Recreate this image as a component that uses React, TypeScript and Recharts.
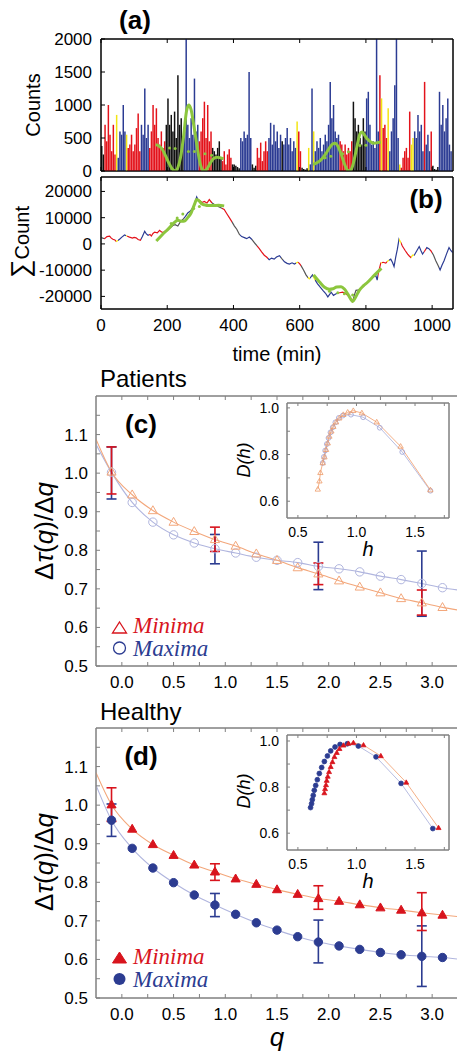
import React from 'react';
import { ComposedChart, Bar, Cell, Line, Scatter, XAxis, YAxis, ErrorBar, ReferenceArea } from 'recharts';

// ---------------- data: panel (a) ----------------
const T_END = 1063;
const BIN = 5;
const counts = [
  380, 250, 700, 450, 1000, 550, 300, 700, 250, 850,
  200, 600, 550, 1000, 600, 550, 350, 400, 550, 300,
  400, 650, 870, 300, 700, 550, 1250, 500, 700, 350,
  600, 1000, 700, 950, 500, 400, 600, 350, 450, 700,
  1100, 700, 850, 600, 900, 500, 1450, 700, 800, 400,
  600, 2000, 700, 500, 800, 550, 1400, 600, 700, 450,
  600, 800, 1050, 500, 1000, 450, 600, 350, 300, 250,
  350, 450, 200, 150, 300, 100, 250, 330, 200, 100,
  100, 80, 60, 40, 500, 450, 600, 500, 550, 1500,
  500, 100, 50, 80, 350, 200, 430, 150, 300, 450,
  300, 500, 730, 400, 700, 450, 600, 350, 550, 450,
  400, 500, 650, 400, 500, 300, 450, 350, 750, 600,
  300, 50, 30, 20, 40, 350, 100, 1250, 600, 300,
  450, 350, 500, 300, 400, 550, 450, 700, 1350, 800,
  1000, 600, 500, 550, 450, 400, 300, 400, 250, 350,
  300, 450, 1050, 800, 600, 700, 500, 400, 800, 600,
  1100, 1200, 700, 400, 450, 350, 2000, 600, 1450, 1100,
  650, 700, 500, 950, 300, 600, 800, 1300, 2000, 500,
  100, 50, 200, 300, 350, 200, 900, 400, 500, 600,
  500, 850, 600, 700, 300, 1350, 400, 550, 300, 600,
  80, 30, 20, 60, 1200, 700, 1000, 600, 800, 1100, 400, 300,
];

// colour class of each time segment: [start, end, class]
const segments: [number, number, string][] = [
  [0, 8, 'K'], [8, 45, 'R'], [45, 52, 'Y'], [52, 75, 'B'], [75, 80, 'Y'], [80, 120, 'R'],
  [120, 145, 'B'], [145, 195, 'R'], [195, 250, 'K'], [250, 297, 'B'], [297, 335, 'R'],
  [335, 365, 'K'], [365, 395, 'R'], [395, 420, 'K'], [420, 455, 'B'], [455, 470, 'K'],
  [470, 505, 'R'], [505, 545, 'B'], [545, 550, 'K'], [550, 590, 'B'], [590, 595, 'Y'],
  [595, 605, 'R'], [605, 625, 'K'], [625, 630, 'Y'], [630, 640, 'B'], [640, 645, 'Y'],
  [645, 720, 'B'], [720, 760, 'R'], [760, 800, 'K'], [800, 838, 'B'], [838, 845, 'R'],
  [845, 850, 'Y'], [850, 865, 'R'], [865, 870, 'Y'], [870, 900, 'B'], [900, 905, 'Y'],
  [905, 935, 'R'], [935, 945, 'Y'], [945, 975, 'B'], [975, 980, 'R'], [980, 995, 'B'],
  [995, 1000, 'R'], [1000, 1020, 'K'], [1020, 1065, 'B'],
];

const greenA1T = [165, 175, 185, 195, 205, 215, 225, 232, 240, 250, 258, 265, 272, 280, 290, 300, 310, 320, 330, 340, 350, 360, 370];
const greenA1V = [400, 380, 330, 230, 120, 30, 0, 50, 200, 550, 900, 1000, 930, 700, 380, 100, 0, 30, 120, 190, 210, 200, 185];
const greenA2T = [640, 650, 660, 670, 680, 690, 700, 708, 715, 725, 735, 745, 752, 760, 768, 775, 782, 788, 795, 805, 815, 825, 835, 845];
const greenA2V = [100, 120, 150, 200, 270, 350, 410, 420, 380, 260, 110, 10, 0, 80, 250, 420, 560, 590, 550, 480, 440, 420, 430, 440];
const greenDotsAT = [207, 224, 264, 282, 314, 334, 677, 694, 730, 747, 782, 800];
const greenDotsAV = [350, 340, 295, 295, 260, 240, 200, 225, 260, 290, 385, 390];

// ---------------- data: panel (b) ----------------
const cumT = [0, 5, 11, 18, 26, 31, 36, 42, 46, 52, 56, 63, 71, 78, 86, 95, 100, 106, 112, 119, 125, 132, 137, 142, 148, 152, 157, 162, 170, 177, 182, 187, 195, 202, 210, 217, 224, 232, 240, 247, 255, 262, 270, 277, 283, 289, 293, 297, 305, 312, 320, 327, 334, 342, 350, 357, 365, 372, 380, 388, 396, 403, 410, 418, 425, 433, 440, 448, 455, 463, 470, 478, 485, 493, 500, 508, 515, 523, 530, 539, 546, 554, 562, 569, 577, 584, 594, 599, 604, 612, 619, 625, 629, 634, 639, 646, 654, 662, 670, 678, 685, 690, 695, 702, 710, 720, 730, 740, 750, 756, 760, 765, 770, 778, 785, 792, 800, 808, 815, 822, 830, 834, 838, 845, 852, 860, 867, 875, 880, 885, 890, 895, 900, 905, 910, 918, 926, 931, 936, 941, 946, 952, 961, 966, 971, 977, 984, 990, 996, 1004, 1011, 1018, 1024, 1030, 1036, 1043, 1051, 1057, 1062];
const cumV = [2500, 2200, 2000, 2800, 3000, 2200, 1800, 1500, 900, 1400, 1800, 2600, 3400, 3000, 2600, 2200, 2500, 2300, 1700, 1400, 2800, 4800, 3800, 3300, 3600, 3000, 4000, 4500, 4200, 5200, 4600, 4300, 5000, 5500, 6200, 7000, 7300, 6800, 8500, 9300, 10500, 11800, 12500, 13700, 15500, 17900, 16800, 16600, 15800, 16200, 15600, 16900, 15800, 15000, 14600, 14100, 13600, 13100, 11500, 9900, 8300, 6800, 5600, 3600, 2800, 2400, 2000, 2600, 1800, 500, -600, -1800, -3000, -4300, -5000, -6000, -5400, -5800, -5000, -4500, -5600, -6800, -7400, -7700, -7200, -7700, -7000, -7400, -8300, -10000, -11800, -12800, -13300, -12600, -11800, -13600, -15200, -16500, -17700, -18800, -20200, -19300, -18400, -19600, -19000, -18600, -18400, -19000, -20200, -21000, -21900, -19500, -17700, -17500, -16900, -16200, -15200, -14200, -13300, -12600, -12100, -13800, -10800, -7300, -7000, -7300, -6400, -5800, -7000, -8600, -5000, -2000, 1800, 600, -800, -2400, -3900, -4600, -5200, -4300, -4300, -3000, -1000, -2500, -3900, -2800, -1400, -1800, -2600, -4200, -6400, -8200, -9900, -8000, -6400, -4000, -1400, -2600, -3300];

const greenB1T = [167, 185, 207, 220, 232, 245, 252, 262, 272, 282, 289, 297, 305, 312, 325, 337, 355, 372];
const greenB1V = [1100, 3500, 6200, 8000, 9000, 8600, 8700, 10000, 11800, 15000, 16900, 16300, 15200, 14900, 14600, 14600, 14700, 14500];
const greenB2T = [642, 660, 675, 690, 700, 712, 725, 735, 745, 755, 760, 768, 780, 792, 805, 825, 847];
const greenB2V = [-11800, -14500, -16500, -17300, -17100, -16400, -16300, -17200, -19000, -21200, -21900, -20500, -17700, -16000, -14600, -12000, -9300];
const greenDotsBT = [212, 230, 247, 280, 297, 690, 715, 735, 760];
const greenDotsBV = [7800, 9900, 11400, 13500, 14300, -18000, -18600, -19000, -19500];

// ---------------- data: panels (c) and (d) ----------------
const qPts = [-0.1, 0.1, 0.3, 0.5, 0.7, 0.9, 1.1, 1.3, 1.5, 1.7, 1.9, 2.1, 2.3, 2.5, 2.7, 2.9, 3.1];
const cMin = [1.003, 0.944, 0.903, 0.873, 0.849, 0.828, 0.811, 0.791, 0.774, 0.755, 0.739, 0.721, 0.705, 0.690, 0.675, 0.664, 0.652];
const cMax = [1.002, 0.924, 0.873, 0.840, 0.819, 0.804, 0.793, 0.782, 0.774, 0.768, 0.758, 0.752, 0.744, 0.733, 0.724, 0.714, 0.703];
const dMin = [1.001, 0.938, 0.898, 0.870, 0.845, 0.827, 0.809, 0.795, 0.781, 0.769, 0.758, 0.751, 0.742, 0.734, 0.728, 0.721, 0.715];
const dMax = [0.961, 0.888, 0.837, 0.799, 0.767, 0.741, 0.717, 0.695, 0.676, 0.659, 0.645, 0.635, 0.626, 0.618, 0.612, 0.608, 0.605];
// fit-curve end values at q = -0.25 and q = 3.25
const cMinEnds = [1.088, 0.645];
const cMaxEnds = [1.075, 0.697];
const dMinEnds = [1.084, 0.711];
const dMaxEnds = [1.052, 0.601];

const errQ = [-0.1, 0.9, 1.9, 2.9];
const cErrMinLo = [0.946, 0.797, 0.711, 0.632];
const cErrMinHi = [1.068, 0.860, 0.767, 0.697];
const cErrMaxLo = [0.933, 0.765, 0.698, 0.629];
const cErrMaxHi = [1.068, 0.841, 0.821, 0.798];
const dErrMinLo = [0.958, 0.805, 0.730, 0.675];
const dErrMinHi = [1.045, 0.848, 0.791, 0.773];
const dErrMaxLo = [0.919, 0.711, 0.591, 0.530];
const dErrMaxHi = [1.003, 0.771, 0.702, 0.687];

// insets D(h)
const icMinH = [0.670, 0.684, 0.692, 0.712, 0.727, 0.741, 0.755, 0.769, 0.786, 0.803, 0.826, 0.854, 0.888, 0.925, 0.973, 1.046, 1.173, 1.377, 1.631];
const icMinD = [0.651, 0.686, 0.722, 0.764, 0.789, 0.821, 0.849, 0.878, 0.900, 0.920, 0.939, 0.956, 0.971, 0.981, 0.988, 0.978, 0.939, 0.835, 0.648];
const icMaxH = [0.712, 0.722, 0.733, 0.747, 0.761, 0.778, 0.798, 0.820, 0.849, 0.883, 0.953, 1.057, 1.199, 1.391, 1.631];
const icMaxD = [0.764, 0.790, 0.817, 0.845, 0.871, 0.895, 0.917, 0.938, 0.957, 0.967, 0.971, 0.960, 0.915, 0.811, 0.645];
const idMaxH = [0.608, 0.617, 0.623, 0.631, 0.640, 0.652, 0.666, 0.683, 0.703, 0.726, 0.752, 0.780, 0.817, 0.860, 0.922, 1.016, 1.167, 1.381, 1.652];
const idMaxD = [0.711, 0.728, 0.745, 0.764, 0.786, 0.807, 0.832, 0.859, 0.885, 0.911, 0.935, 0.957, 0.974, 0.985, 0.988, 0.978, 0.931, 0.816, 0.620];
const idMinH = [0.726, 0.732, 0.740, 0.746, 0.755, 0.766, 0.780, 0.795, 0.812, 0.832, 0.855, 0.889, 0.932, 0.974, 1.060, 1.208, 1.425, 1.701];
const idMinD = [0.774, 0.792, 0.809, 0.828, 0.846, 0.866, 0.888, 0.909, 0.931, 0.949, 0.966, 0.981, 0.989, 0.992, 0.982, 0.935, 0.820, 0.623];

// ticks
const timeTicks = [0, 200, 400, 600, 800, 1000];
const countTicks = [0, 500, 1000, 1500, 2000];
const cumTicks = [-20000, -10000, 0, 10000, 20000];
const qTicks = [0, 0.25, 0.5, 0.75, 1, 1.25, 1.5, 1.75, 2, 2.25, 2.5, 2.75, 3];
const tauTicks = [0.5, 0.55, 0.6, 0.65, 0.7, 0.75, 0.8, 0.85, 0.9, 0.95, 1.0, 1.05, 1.1, 1.15];
const hTicks = [0.5, 0.75, 1.0, 1.25, 1.5, 1.75];
const dTicks = [0.6, 0.7, 0.8, 0.9, 1.0];

// ---------------- styles ----------------
const SANS = "'Liberation Sans', Arial, Helvetica, sans-serif";
const SERIF = "'Liberation Serif', 'Times New Roman', serif";
const BAR_COLOR: Record<string, string> = { R: '#e3131b', B: '#2b3b93', Y: '#f3e513', K: '#111111' };
const LINE_COLOR: Record<string, string> = { R: '#e3131b', B: '#2b3b93', Y: '#f3e513', K: '#555555' };
const GREEN = '#8cc63e';
const RED = '#d8141d';
const BLUE = '#2c3c91';
const ORANGE_L = '#f3a77b';
const BLUE_L = '#b0b5de';
const FRAME = '#808080';
const tickFont = { fontSize: 17, fill: '#000', fontFamily: SANS };
const insetFont = { fontSize: 14, fill: '#000', fontFamily: SANS };

const classAt = (t: number) => {
  const s = segments.find(([a, b]) => t >= a && t < b);
  return s ? s[2] : 'B';
};

const barData = counts.map((c, i) => ({ t: i * BIN + BIN / 2, c }));
const zip = (xs: number[], ys: number[], kx: string, ky: string) => xs.map((x, i) => ({ [kx]: x, [ky]: ys[i] }));

const none = () => '';
const fmtTenth = (v: number) => (Math.round(v * 100) % 10 === 0 ? v.toFixed(1) : '');
const fmtHalf = (v: number) => (Math.round(v * 100) % 50 === 0 ? v.toFixed(1) : '');
const fmtFifth = (v: number) => (Math.round(v * 10) % 2 === 0 ? v.toFixed(1) : '');

const triangle = (cx: number, cy: number, r: number, fill: string, stroke: string, sw = 1) => (
  <polygon
    points={`${cx},${cy - r} ${cx + r * 0.95},${cy + r * 0.65} ${cx - r * 0.95},${cy + r * 0.65}`}
    fill={fill}
    stroke={stroke}
    strokeWidth={sw}
  />
);

const triShape = (r: number, fill: string, stroke: string) => (p: any) =>
  p.cx == null ? <g /> : triangle(p.cx, p.cy, r, fill, stroke);
const circShape = (r: number, fill: string, stroke: string) => (p: any) =>
  p.cx == null ? <g /> : <circle cx={p.cx} cy={p.cy} r={r} fill={fill} stroke={stroke} strokeWidth={1} />;
const triDot = (r: number, fill: string, stroke: string) => (p: any) =>
  <g key={`t${p.index}`}>{p.cx == null ? null : triangle(p.cx, p.cy, r, fill, stroke, 0.8)}</g>;
const circDot = (r: number, fill: string, stroke: string) => (p: any) =>
  <g key={`c${p.index}`}>{p.cx == null ? null : <circle cx={p.cx} cy={p.cy} r={r} fill={fill} stroke={stroke} strokeWidth={0.8} />}</g>;
const emptyShape = () => <g />;

const axLine = (c: string) => ({ stroke: c, strokeWidth: 1 });

// ---------------- panels ----------------
function CountsChart() {
  return (
    <ComposedChart width={457} height={186} data={barData} margin={{ top: 38, right: 3, bottom: 14, left: 0 }}>
      <XAxis type="number" dataKey="t" domain={[0, T_END]} ticks={timeTicks} interval={0} tickFormatter={none} tickSize={-4} height={1} axisLine={axLine('#000')} tickLine={axLine('#000')} allowDataOverflow />
      <XAxis xAxisId="top" orientation="top" type="number" dataKey="t" domain={[0, T_END]} ticks={timeTicks} interval={0} tickFormatter={none} tickSize={-4} height={1} axisLine={axLine('#000')} tickLine={axLine('#000')} allowDataOverflow />
      <YAxis domain={[0, 2000]} ticks={countTicks} interval={0} width={101} tickSize={-4} tickMargin={13} tick={tickFont} axisLine={axLine('#000')} tickLine={axLine('#000')} allowDataOverflow />
      <YAxis yAxisId="right" orientation="right" domain={[0, 2000]} ticks={countTicks} interval={0} width={1} tickSize={-4} tickFormatter={none} axisLine={axLine('#000')} tickLine={axLine('#000')} />
      <Bar dataKey="c" barSize={1.7} isAnimationActive={false}>
        {barData.map((d, i) => (
          <Cell key={i} fill={BAR_COLOR[classAt(d.t)]} />
        ))}
      </Bar>
      <Line xAxisId="top" data={zip(greenA1T, greenA1V, 't', 'g')} dataKey="g" type="monotone" stroke={GREEN} strokeWidth={3} dot={false} isAnimationActive={false} />
      <Line xAxisId="top" data={zip(greenA2T, greenA2V, 't', 'g')} dataKey="g" type="monotone" stroke={GREEN} strokeWidth={3} dot={false} isAnimationActive={false} />
      <Scatter xAxisId="top" data={zip(greenDotsAT, greenDotsAV, 't', 'g')} dataKey="g" shape={circShape(1.5, GREEN, 'none')} isAnimationActive={false} />
      <ReferenceArea x1={0} x2={T_END} y1={0} y2={2000} fill="none" stroke="#000" strokeWidth={1} ifOverflow="visible" />
    </ComposedChart>
  );
}

function CumChart() {
  const t0 = cumT[0];
  const t1 = cumT[cumT.length - 1];
  const frac = (t: number) => Math.max(0, Math.min(1, (t - t0) / (t1 - t0)));
  return (
    <ComposedChart width={457} height={163} margin={{ top: 0, right: 3, bottom: 0, left: 0 }}>
      <defs>
        <linearGradient id="cumGrad" x1="0" y1="0" x2="1" y2="0">
          {segments.flatMap(([a, b, k], i) => [
            <stop key={`${i}a`} offset={frac(a)} stopColor={LINE_COLOR[k]} />,
            <stop key={`${i}b`} offset={frac(b)} stopColor={LINE_COLOR[k]} />,
          ])}
        </linearGradient>
      </defs>
      <XAxis type="number" dataKey="t" domain={[0, T_END]} ticks={timeTicks} interval={0} tickSize={-4} tickMargin={14} height={30} tick={tickFont} axisLine={axLine('#000')} tickLine={axLine('#000')} allowDataOverflow />
      <XAxis xAxisId="top" orientation="top" type="number" dataKey="t" domain={[0, T_END]} ticks={timeTicks} interval={0} tickFormatter={none} tickSize={-4} height={1} axisLine={axLine('#000')} tickLine={axLine('#000')} allowDataOverflow />
      <YAxis domain={[-24800, 25500]} ticks={cumTicks} interval={0} width={101} tickSize={-4} tickMargin={13} tick={tickFont} axisLine={axLine('#000')} tickLine={axLine('#000')} allowDataOverflow />
      <YAxis yAxisId="right" orientation="right" domain={[-24800, 25500]} ticks={cumTicks} interval={0} width={1} tickSize={-4} tickFormatter={none} axisLine={axLine('#000')} tickLine={axLine('#000')} />
      <Line data={zip(cumT, cumV, 't', 'v')} dataKey="v" type="linear" stroke="url(#cumGrad)" strokeWidth={1.2} dot={false} isAnimationActive={false} />
      <Line data={zip(greenB1T, greenB1V, 't', 'v')} dataKey="v" type="monotone" stroke={GREEN} strokeWidth={3} dot={false} isAnimationActive={false} />
      <Line data={zip(greenB2T, greenB2V, 't', 'v')} dataKey="v" type="monotone" stroke={GREEN} strokeWidth={3} dot={false} isAnimationActive={false} />
      <Scatter data={zip(greenDotsBT, greenDotsBV, 't', 'v')} dataKey="v" shape={circShape(1.5, GREEN, 'none')} isAnimationActive={false} />
      <ReferenceArea x1={0} x2={T_END} y1={-24800} y2={25500} fill="none" stroke="#000" strokeWidth={1} ifOverflow="visible" />
    </ComposedChart>
  );
}

type QProps = {
  minV: number[]; maxV: number[]; minEnds: number[]; maxEnds: number[];
  eMinLo: number[]; eMinHi: number[]; eMaxLo: number[]; eMaxHi: number[]; filled: boolean;
};

function QChart({ minV, maxV, minEnds, maxEnds, eMinLo, eMinHi, eMaxLo, eMaxHi, filled }: QProps) {
  const pMin = qPts.map((q, i) => ({ q, v: minV[i] }));
  const pMax = qPts.map((q, i) => ({ q, v: maxV[i] }));
  const fitMin = [{ q: -0.25, v: minEnds[0] }, ...pMin, { q: 3.25, v: minEnds[1] }];
  const fitMax = [{ q: -0.25, v: maxEnds[0] }, ...pMax, { q: 3.25, v: maxEnds[1] }];
  const errMin = errQ.map((q, i) => ({ q, m: (eMinLo[i] + eMinHi[i]) / 2, e: (eMinHi[i] - eMinLo[i]) / 2 }));
  const errMax = errQ.map((q, i) => ({ q, m: (eMaxLo[i] + eMaxHi[i]) / 2, e: (eMaxHi[i] - eMaxLo[i]) / 2 }));
  return (
    <ComposedChart width={465} height={316} margin={{ top: 15, right: 6, bottom: 0, left: 0 }}>
      <XAxis type="number" dataKey="q" domain={[-0.25, 3.25]} ticks={qTicks} interval={0} tickFormatter={fmtHalf} tickSize={-4} tickMargin={14} height={30} tick={tickFont} axisLine={axLine(FRAME)} tickLine={axLine(FRAME)} allowDataOverflow />
      <XAxis xAxisId="top" orientation="top" type="number" dataKey="q" domain={[-0.25, 3.25]} ticks={qTicks} interval={0} tickFormatter={none} tickSize={-4} height={1} axisLine={axLine(FRAME)} tickLine={axLine(FRAME)} allowDataOverflow />
      <YAxis domain={[0.5, 1.2]} ticks={tauTicks} interval={0} tickFormatter={fmtTenth} width={96} tickSize={-4} tickMargin={12} tick={tickFont} axisLine={axLine(FRAME)} tickLine={axLine(FRAME)} allowDataOverflow />
      <YAxis yAxisId="right" orientation="right" domain={[0.5, 1.2]} ticks={tauTicks} interval={0} tickFormatter={none} width={1} tickSize={-4} axisLine={axLine(FRAME)} tickLine={axLine(FRAME)} />
      <ReferenceArea x1={-0.25} x2={3.25} y1={0.5} y2={1.2} fill="none" stroke={FRAME} strokeWidth={1} ifOverflow="visible" />
      <Line data={fitMax} dataKey="v" type="monotone" stroke={BLUE_L} strokeWidth={1.1} dot={false} isAnimationActive={false} />
      <Line data={fitMin} dataKey="v" type="monotone" stroke={ORANGE_L} strokeWidth={1.1} dot={false} isAnimationActive={false} />
      <Scatter data={errMax} dataKey="m" shape={emptyShape} isAnimationActive={false}>
        <ErrorBar dataKey="e" direction="y" width={5} stroke={BLUE} strokeWidth={1.6} isAnimationActive={false} />
      </Scatter>
      <Scatter data={errMin} dataKey="m" shape={emptyShape} isAnimationActive={false}>
        <ErrorBar dataKey="e" direction="y" width={5} stroke={RED} strokeWidth={1.6} isAnimationActive={false} />
      </Scatter>
      <Scatter data={pMax} dataKey="v" shape={filled ? circShape(4.2, BLUE, BLUE) : circShape(4.2, 'none', BLUE_L)} isAnimationActive={false} />
      <Scatter data={pMin} dataKey="v" shape={filled ? triShape(4.8, RED, RED) : triShape(4.8, 'none', ORANGE_L)} isAnimationActive={false} />
    </ComposedChart>
  );
}

type InsetProps = { minH: number[]; minD: number[]; maxH: number[]; maxD: number[]; yDomain: number[]; filled: boolean };

function InsetChart({ minH, minD, maxH, maxD, yDomain, filled }: InsetProps) {
  return (
    <ComposedChart width={220} height={160} margin={{ top: 7, right: 10, bottom: 0, left: 0 }}>
      <XAxis type="number" dataKey="h" domain={[0.407, 1.79]} ticks={hTicks} interval={0} tickFormatter={fmtHalf} tickSize={-3} tickMargin={12} height={37} tick={insetFont} axisLine={axLine(FRAME)} tickLine={axLine(FRAME)} allowDataOverflow />
      <XAxis xAxisId="top" orientation="top" type="number" dataKey="h" domain={[0.407, 1.79]} ticks={hTicks} interval={0} tickFormatter={none} tickSize={-3} height={1} axisLine={axLine(FRAME)} tickLine={axLine(FRAME)} allowDataOverflow />
      <YAxis domain={yDomain} ticks={dTicks} interval={0} tickFormatter={fmtFifth} width={47} tickSize={-3} tickMargin={11} tick={insetFont} axisLine={axLine(FRAME)} tickLine={axLine(FRAME)} allowDataOverflow />
      <YAxis yAxisId="right" orientation="right" domain={yDomain} ticks={dTicks} interval={0} tickFormatter={none} width={1} tickSize={-3} axisLine={axLine(FRAME)} tickLine={axLine(FRAME)} />
      <ReferenceArea x1={0.407} x2={1.79} y1={yDomain[0]} y2={yDomain[1]} fill="#fff" stroke={FRAME} strokeWidth={1} ifOverflow="visible" />
      <Line data={zip(maxH, maxD, 'h', 'd')} dataKey="d" type="linear" stroke={BLUE_L} strokeWidth={0.9}
        dot={filled ? circDot(2.4, BLUE, BLUE) : circDot(2.4, 'none', '#9aa0d4')} isAnimationActive={false} />
      <Line data={zip(minH, minD, 'h', 'd')} dataKey="d" type="linear" stroke={ORANGE_L} strokeWidth={0.9}
        dot={filled ? triDot(2.6, RED, RED) : triDot(2.8, 'none', '#ee9a68')} isAnimationActive={false} />
    </ComposedChart>
  );
}

function TauLabel({ cy }: { cy: number }) {
  return (
    <text transform={`translate(53,${cy}) rotate(-90)`} textAnchor="middle" fontSize={26} fontFamily={SANS}>
      Δ<tspan fontStyle="italic">τ</tspan>(<tspan fontStyle="italic">q</tspan>)/Δ<tspan fontStyle="italic">q</tspan>
    </text>
  );
}

function Overlay() {
  return (
    <svg width={457} height={1059} style={{ position: 'absolute', left: 0, top: 0, pointerEvents: 'none' }} fontFamily={SANS}>
      <text x={135} y={29} fontSize={26} fontWeight="bold" textAnchor="middle">(a)</text>
      <text x={426} y={208} fontSize={26} fontWeight="bold" textAnchor="middle">(b)</text>
      <text x={141} y={433} fontSize={26} fontWeight="bold" textAnchor="middle">(c)</text>
      <text x={141} y={765} fontSize={26} fontWeight="bold" textAnchor="middle">(d)</text>
      <text transform="translate(40,105) rotate(-90)" textAnchor="middle" fontSize={20}>Counts</text>
      <text transform="translate(29,242) rotate(-90)" textAnchor="middle" fontSize={20}>
        <tspan fontSize={26}>∑</tspan>Count
      </text>
      <text x={277} y={361} textAnchor="middle" fontSize={20}>time (min)</text>
      <text x={100} y={387} fontSize={24}>Patients</text>
      <text x={100} y={720} fontSize={24}>Healthy</text>
      <TauLabel cy={531} />
      <TauLabel cy={862} />
      <text x={277} y={1046} textAnchor="middle" fontSize={26} fontStyle="italic">q</text>
      <text transform="translate(250,460) rotate(-90)" textAnchor="middle" fontSize={18} fontStyle="italic">D(h)</text>
      <text transform="translate(250,791) rotate(-90)" textAnchor="middle" fontSize={18} fontStyle="italic">D(h)</text>
      <text x={368} y={556} textAnchor="middle" fontSize={20} fontStyle="italic">h</text>
      <text x={368} y={888} textAnchor="middle" fontSize={20} fontStyle="italic">h</text>
      {/* legend (c) */}
      <polygon points="119.5,622 126.5,633 112.5,633" fill="none" stroke={RED} strokeWidth={1.3} />
      <text x={133} y={633} fontSize={23} fontStyle="italic" fontFamily={SERIF} fill={RED}>Minima</text>
      <circle cx={119.5} cy={648} r={6} fill="none" stroke={BLUE} strokeWidth={1.3} />
      <text x={133} y={656} fontSize={23} fontStyle="italic" fontFamily={SERIF} fill={BLUE}>Maxima</text>
      {/* legend (d) */}
      <polygon points="119.5,952 126.5,963 112.5,963" fill={RED} stroke={RED} strokeWidth={1} />
      <text x={133} y={964} fontSize={23} fontStyle="italic" fontFamily={SERIF} fill={RED}>Minima</text>
      <circle cx={119.5} cy={979} r={6} fill={BLUE} />
      <text x={133} y={987} fontSize={23} fontStyle="italic" fontFamily={SERIF} fill={BLUE}>Maxima</text>
    </svg>
  );
}

export default function App() {
  return (
    <div style={{ position: 'absolute', left: 0, top: 0, width: 457, height: 1059, overflow: 'hidden', background: '#fff', fontFamily: SANS }}>
      <div style={{ position: 'absolute', left: 0, top: 176 }}><CumChart /></div>
      <div style={{ position: 'absolute', left: 0, top: 0 }}><CountsChart /></div>
      <div style={{ position: 'absolute', left: 0, top: 380 }}>
        <QChart minV={cMin} maxV={cMax} minEnds={cMinEnds} maxEnds={cMaxEnds}
          eMinLo={cErrMinLo} eMinHi={cErrMinHi} eMaxLo={cErrMaxLo} eMaxHi={cErrMaxHi} filled={false} />
      </div>
      <div style={{ position: 'absolute', left: 0, top: 712 }}>
        <QChart minV={dMin} maxV={dMax} minEnds={dMinEnds} maxEnds={dMaxEnds}
          eMinLo={dErrMinLo} eMinHi={dErrMinHi} eMaxLo={dErrMaxLo} eMaxHi={dErrMaxHi} filled={true} />
      </div>
      <div style={{ position: 'absolute', left: 240, top: 395 }}>
        <InsetChart minH={icMinH} minD={icMinD} maxH={icMaxH} maxD={icMaxD} yDomain={[0.528, 1.021]} filled={false} />
      </div>
      <div style={{ position: 'absolute', left: 240, top: 727 }}>
        <InsetChart minH={idMinH} minD={idMinD} maxH={idMaxH} maxD={idMaxD} yDomain={[0.527, 1.026]} filled={true} />
      </div>
      <Overlay />
    </div>
  );
}
